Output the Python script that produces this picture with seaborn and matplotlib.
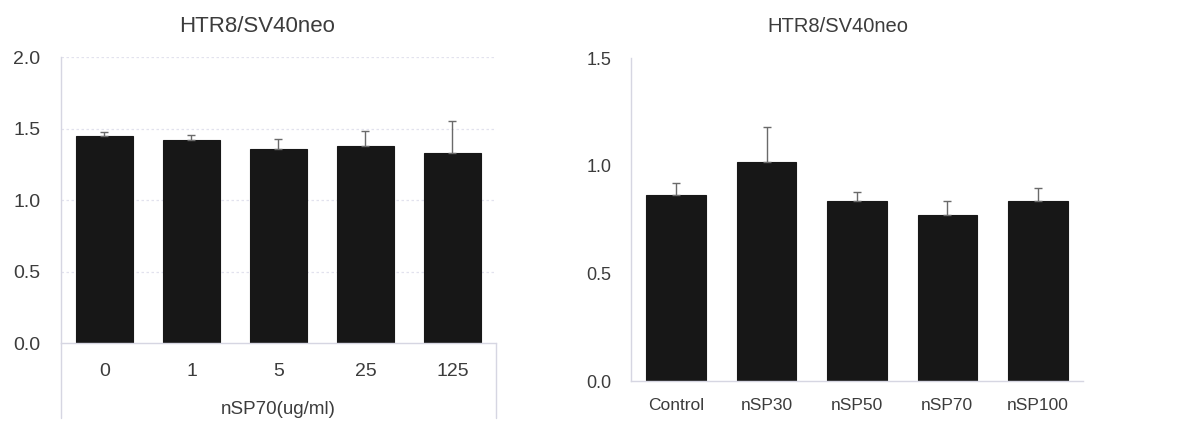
import matplotlib
matplotlib.use("Agg")
import matplotlib.pyplot as plt
from matplotlib.lines import Line2D
import pandas as pd
import seaborn as sns

# Cell viability of HTR8/SV40neo cells
dose_labels = ["0", "1", "5", "25", "125"]
dose_means = [1.45, 1.42, 1.36, 1.38, 1.33]
dose_sd = [0.03, 0.04, 0.07, 0.105, 0.225]

size_labels = ["Control", "nSP30", "nSP50", "nSP70", "nSP100"]
size_means = [0.865, 1.02, 0.835, 0.772, 0.835]
size_sd = [0.055, 0.16, 0.042, 0.063, 0.061]

panel_title = "HTR8/SV40neo"
dose_xlabel = "nSP70(ug/ml)"

sns.set_theme(style="white")
plt.rcParams["font.family"] = ["Liberation Sans", "DejaVu Sans"]

TEXT = "#3c3c3c"
BAR = "#171717"
ERR = "#6a6a6a"
FRAME = "#d6d6e2"

fig = plt.figure(figsize=(11.82, 4.25), dpi=100)
ax1 = fig.add_axes([0.0516, 0.1922, 0.3680, 0.6730])
ax2 = fig.add_axes([0.5338, 0.1035, 0.3824, 0.7593])


def draw_panel(ax, labels, means, sd, ylim, yticks, tick_fs, xpad, ypad):
    df = pd.DataFrame({"group": labels, "value": means})
    sns.barplot(data=df, x="group", y="value", order=labels, color=BAR,
                saturation=1, width=0.66, edgecolor=BAR, linewidth=0.8,
                errorbar=None, ax=ax, zorder=2)
    ax.errorbar(range(len(labels)), means, yerr=[[0] * len(sd), sd],
                fmt="none", ecolor=ERR, elinewidth=1.0, capsize=3,
                capthick=1.0, zorder=3)
    ax.set_xlim(-0.5, len(labels) - 0.5)
    ax.set_ylim(*ylim)
    ax.set_yticks(yticks)
    ax.set_yticklabels([f"{t:.1f}" for t in yticks])
    ax.set_xlabel("")
    ax.set_ylabel("")
    ax.tick_params(axis="both", length=0, labelsize=tick_fs, colors=TEXT)
    ax.tick_params(axis="x", pad=xpad)
    ax.tick_params(axis="y", pad=ypad)
    for side in ("top", "right"):
        ax.spines[side].set_visible(False)
    for side in ("left", "bottom"):
        ax.spines[side].set_color(FRAME)
        ax.spines[side].set_linewidth(1.0)


draw_panel(ax1, dose_labels, dose_means, dose_sd, (0, 2.0),
           [0.0, 0.5, 1.0, 1.5, 2.0], 14, 14, 15)
draw_panel(ax2, size_labels, size_means, size_sd, (0, 1.5),
           [0.0, 0.5, 1.0, 1.5], 12.5, 12, 14)
ax2.tick_params(axis="y", labelsize=13)

# faint dotted gridlines on the dose panel
for y in [0.5, 1.0, 1.5, 2.0]:
    ax1.axhline(y, color="#e2e2ee", lw=0.9, ls=(0, (2, 2)), zorder=0)

# outline around the category-label area of the dose panel
ax1.add_line(Line2D([0, 0], [0, -0.262], transform=ax1.transAxes,
                    color=FRAME, lw=1.0, clip_on=False))
ax1.add_line(Line2D([1, 1], [0, -0.262], transform=ax1.transAxes,
                    color=FRAME, lw=1.0, clip_on=False))

ax1.set_xlabel(dose_xlabel, fontsize=13.5, color=TEXT, labelpad=15)

fig.text(0.2174, 0.9254, panel_title, fontsize=16, color=TEXT,
         ha="center", va="baseline")
fig.text(0.709, 0.9254, panel_title, fontsize=14.5, color=TEXT,
         ha="center", va="baseline")

fig.savefig("out.png", dpi=100, facecolor="white")
